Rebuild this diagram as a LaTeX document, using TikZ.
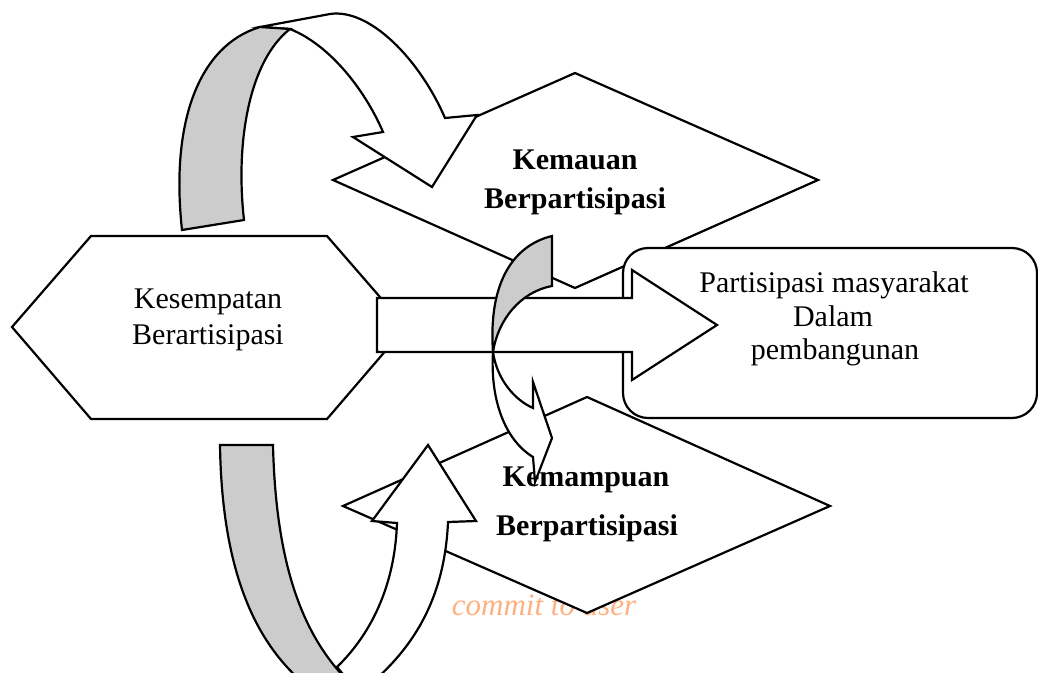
\documentclass[tikz,border=0pt]{standalone}
\usepackage{fontspec}
\setmainfont{Liberation Serif}
\definecolor{backgray}{RGB}{204,204,204}
\definecolor{wmark}{RGB}{255,176,128}
\begin{document}
\begin{tikzpicture}[x=1pt,y=-1pt,
  shp/.style={draw=black, line width=2.2pt, fill=white},
  grayshp/.style={draw=black, line width=2.2pt, fill=backgray},
  lbl/.style={anchor=base, inner sep=0pt, font=\fontsize{30}{36}\selectfont},
  blbl/.style={anchor=base, inner sep=0pt, font=\fontsize{30}{36}\selectfont\bfseries}]
\useasboundingbox (0,0) rectangle (1038,672);
\clip (0,0) rectangle (1038,672);

% watermark text (under the lower diamond)
\node[anchor=base, inner sep=0pt, text=wmark, font=\fontsize{31}{36}\selectfont\itshape] (wm) at (544,615) {commit to user};

% upper diamond
\path[shp] (333,180) -- (575,73) -- (818,180) -- (575,288) -- cycle;
\node[blbl] (kemauan) at (575,169) {Kemauan};
\node[blbl] (bp1) at (575,208) {Berpartisipasi};

% lower diamond
\path[shp] (343,506) -- (587,397) -- (830,506) -- (587,613) -- cycle;
\node[blbl] (kemampuan) at (586,486) {Kemampuan};
\node[blbl] (bp2) at (587,535) {Berpartisipasi};

% hexagon
\path[shp] (12,327) -- (91,236) -- (327,236) -- (406,327) -- (327,419) -- (91,419) -- cycle;
\node[lbl] (kes) at (208,308) {Kesempatan};
\node[lbl] (berart) at (208,344) {Berartisipasi};

% rounded rectangle
\path[shp, rounded corners=25pt] (623,248) rectangle (1037,418);
\node[lbl] (pm) at (834,292) {Partisipasi masyarakat};
\node[lbl] (dalam) at (833,326) {Dalam};
\node[lbl] (pemb) at (835,359) {pembangunan};

% horizontal block arrow
\path[shp] (377,298) -- (632,298) -- (632,270) -- (717,325) -- (632,380) -- (632,352) -- (377,352) -- cycle;

% upper curved arrow
\path[shp] (260,27) -- (330,14)
  .. controls (370,8) and (420,60) .. (445,118)
  -- (477,115) -- (432,187) -- (353,137) -- (383,132)
  .. controls (365,90) and (330,45) .. (290,29)
  -- cycle;
\path[grayshp] (182,230)
  .. controls (170,120) and (200,45) .. (260,27)
  -- (290,29)
  .. controls (250,60) and (235,140) .. (244,220)
  -- cycle;

% lower curved arrow
\path[shp] (337,667) .. controls (375,630) and (395,580) .. (397,523)
  -- (372,521) -- (428,445) -- (476,521) -- (448,522)
  .. controls (445,590) and (420,640) .. (375,680)
  -- (352,685) -- cycle;
\path[grayshp] (220,445) -- (273,445)
  .. controls (276,570) and (305,640) .. (352,685)
  -- (312,690)
  .. controls (260,650) and (222,580) .. (220,445)
  -- cycle;

% middle twisted arrow
\path[grayshp] (552,236) -- (552,286)
  .. controls (520,292) and (498,320) .. (493,352)
  .. controls (488,280) and (515,245) .. (552,236)
  -- cycle;
\path[shp] (493,352)
  .. controls (497,380) and (515,400) .. (533,408)
  -- (533,382) -- (552,438) -- (535,482) -- (533,457)
  .. controls (505,440) and (490,400) .. (493,352)
  -- cycle;
\end{tikzpicture}
\end{document}
